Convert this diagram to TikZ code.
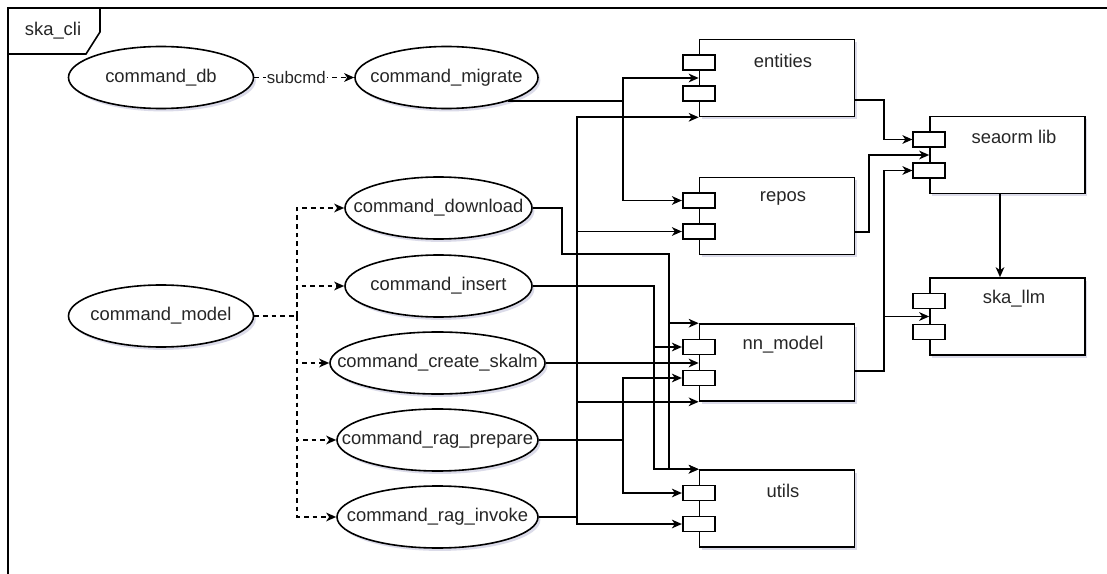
\documentclass[tikz,border=0pt]{standalone}
\usepackage{fontspec}
\setmainfont{Liberation Sans}
\usetikzlibrary{shapes.geometric,arrows.meta,calc,shadows}
\begin{document}
\begin{tikzpicture}[x=0.75pt,y=-0.75pt,
  font=\fontsize{13.8}{16}\selectfont,
  text=black!85,
  lin/.style={line width=1.2pt, draw=black},
  arr/.style={lin, -{Stealth[length=7.5pt,width=6.5pt,inset=2.2pt]}},
  darr/.style={arr, dash pattern=on 3.5pt off 3pt},
  shad/.style={drop shadow={shadow xshift=1.8pt,shadow yshift=-2.2pt,opacity=0.14,fill=black!60!blue}},
  cmd/.style={ellipse, draw, line width=1.2pt, fill=white, inner sep=0pt, minimum height=46.5pt, shad},
  comp/.style={rectangle, draw, line width=1.2pt, fill=white, minimum width=116.25pt, minimum height=57.75pt, inner sep=0pt, shad},
  port/.style={rectangle, draw, line width=1.2pt, fill=white, minimum width=24pt, minimum height=11.25pt, inner sep=0pt},
  sublabel/.style={fill=white, inner sep=1pt, font=\fontsize{12.6}{14}\selectfont},
]
\useasboundingbox (0,0) rectangle (1107,574);
\clip (0,0) rectangle (1107,574);
\fill[white] (0,0) rectangle (1107,574);
% frame
\draw[line width=1.2pt] (8,8) rectangle (1120,590);
\draw[line width=1.2pt, fill=white] (8,8) -- (100,8) -- (100,32) -- (86,54) -- (8,54) -- cycle;
\node (tab) at (53,31) {ska\_cli};

% column / row helper coordinates
\coordinate (xa) at (577,0);
\coordinate (xb) at (623,0);
\coordinate (xc) at (562,0);
\coordinate (xd) at (669,0);
\coordinate (xe) at (654,0);
\coordinate (xf) at (884,0);
\coordinate (xg) at (869,0);
\coordinate (xh) at (297,0);
\coordinate (yd) at (0,254);

% command ellipses
\node[cmd, minimum width=138.75pt] (cdb) at (161,77.5) {\makebox[0pt]{command\_db}};
\node[cmd, minimum width=137.25pt] (cmig) at (446.5,77.5) {\makebox[0pt]{command\_migrate}};
\node[cmd, minimum width=138.75pt] (cmod) at (161,316) {\makebox[0pt]{command\_model}};
\node[cmd, minimum width=140.25pt] (cdl) at (438.5,208) {\makebox[0pt]{command\_download}};
\node[cmd, minimum width=140.25pt] (cins) at (438.5,286) {\makebox[0pt]{command\_insert}};
\node[cmd, minimum width=161.25pt] (ccs) at (437.5,363) {\makebox[0pt]{command\_create\_skalm}};
\node[cmd, minimum width=150.75pt] (crp) at (437.5,440) {\makebox[0pt]{command\_rag\_prepare}};
\node[cmd, minimum width=150.75pt] (cri) at (437.5,517) {\makebox[0pt]{command\_rag\_invoke}};

% components
\node[comp] (ent) at (777,78) {};
\node[comp] (rep) at (777,216) {};
\node[comp] (nn) at (777,362.5) {};
\node[comp] (ut) at (777,508.5) {};
\node[comp] (sea) at (1007.5,155) {};
\node[comp] (ska) at (1007.5,316.5) {};
\foreach \n in {ent,rep,nn,ut,sea,ska}{
  \node[port] (\n-p1) at ($(\n.west)+(0,-15.5)$) {};
  \node[port] (\n-p2) at ($(\n.west)+(0,15.5)$) {};
}
\node (ent-t) at ($(ent.north)+(6,22)$) {entities};
\node (rep-t) at ($(rep.north)+(6,22)$) {repos};
\node (nn-t) at ($(nn.north)+(6,21)$) {nn\_model};
\node (ut-t) at ($(ut.north)+(6,22)$) {utils};
\node (sea-t) at ($(sea.north)+(6.5,21)$) {seaorm lib};
\node (ska-t) at ($(ska.north)+(6.5,21)$) {ska\_llm};

% subcmd
\draw[darr] (cdb.east) -- node[sublabel, pos=0.42] (sublbl) {subcmd} (cmig.west);

% command_model dashed fan-out
\draw[darr] (cmod.east) -- (cmod.east -| xh) |- (cdl.west);
\draw[darr] (cmod.east -| xh) |- (cins.west);
\draw[darr] (cmod.east -| xh) |- (ccs.west);
\draw[darr] (cmod.east -| xh) |- (crp.west);
\draw[darr] (cmod.east -| xh) |- (cri.west);

% command_migrate
\draw[arr] (cmig.-21) -- (cmig.-21 -| xb) |- (ent.west);
\draw[arr] (cmig.-21 -| xb) |- (rep-p1.west);

% command_rag_invoke
\draw[arr] (cri.east) -- (cri.east -| xa) |- (ent.south west);
\draw[arr] (cri.east -| xa) |- (rep-p2.west);
\draw[arr] (cri.east -| xa) |- (nn.south west);
\draw[arr] (cri.east -| xa) |- (ut-p2.west);

% command_rag_prepare
\draw[arr] (crp.east) -- (crp.east -| xb) |- (nn-p2.west);
\draw[arr] (crp.east -| xb) |- (ut-p1.west);

% command_download
\draw[arr] (cdl.east) -- (cdl.east -| xc) -- (xc |- yd) -- (xd |- yd) |- (nn.north west);
\draw[arr] (xd |- yd) |- (ut.north west);

% command_insert
\draw[arr] (cins.east) -- (cins.east -| xe) |- (nn-p1.west);
\draw[arr] (cins.east -| xe) |- (ut.north west);

% command_create_skalm
\draw[arr] (ccs.east) -- (ccs.east -| nn.west);

% components to libraries
\coordinate (ent-o) at ($(ent.east)+(0,22)$);
\coordinate (rep-o) at ($(rep.east)+(0,16)$);
\coordinate (nn-o) at ($(nn.east)+(0,8.5)$);
\draw[arr] (ent-o) -- (ent-o -| xf) |- (sea-p1.west);
\draw[arr] (rep-o) -- (rep-o -| xg) |- (sea.west);
\draw[arr] (nn-o) -- (nn-o -| xf) |- (sea-p2.west);
\draw[arr] (nn-o -| xf) |- (ska.west);
\draw[arr] ($(sea.south)+(-7.5,0)$) -- ($(ska.north)+(-7.5,0)$);
\end{tikzpicture}
\end{document}
